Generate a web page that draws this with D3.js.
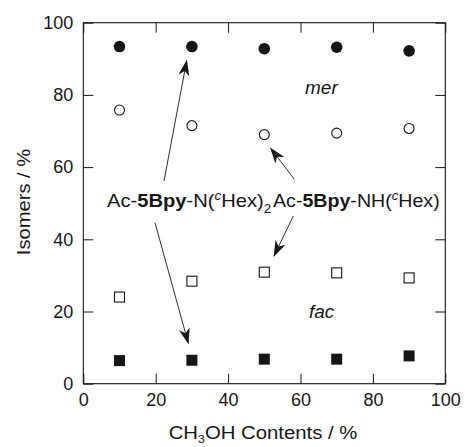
<!DOCTYPE html>
<html>
<head>
<meta charset="utf-8">
<script src="https://cdn.jsdelivr.net/npm/d3@7"></script>
<style>
body { margin:0; background:#fff; }
text { font-family: "Liberation Sans", Arial, sans-serif; fill:#161616; }
</style>
</head>
<body>
<script>
var svgWidth = 465;
var svgHeight = 447;
var margin = {top:22.7, right:19.7, bottom:63.3, left:83.3};
var width = svgWidth - margin.left - margin.right;
var height = svgHeight - margin.top - margin.bottom;

// CH3OH content (%)
var methanol = [10, 30, 50, 70, 90];
// Ac-5Bpy-N(cHex)2 : mer (filled circle), fac (filled square)
var merN2 = [93.4, 93.4, 92.8, 93.2, 92.2];
var facN2 = [6.4, 6.5, 6.8, 6.8, 7.7];
// Ac-5Bpy-NH(cHex) : mer (open circle), fac (open square)
var merNH = [75.8, 71.5, 69.0, 69.4, 70.7];
var facNH = [24.0, 28.4, 30.9, 30.7, 29.3];
var xTicks = [0, 20, 40, 60, 80, 100];
var yTicks = [0, 20, 40, 60, 80, 100];

var svg = d3.select("body").append("svg").attr("width", svgWidth).attr("height", svgHeight);
var chart = svg.append("g").attr("transform", `translate(${margin.left}, ${margin.top})`);

var x = d3.scaleLinear().domain([0, 100]).range([0, width]);
var y = d3.scaleLinear().domain([0, 100]).range([height, 0]);

var ink = "#161616";

function styleAxis(g) {
  g.select(".domain").remove();
  g.selectAll(".tick line").attr("stroke", ink).attr("stroke-width", 1);
  g.selectAll(".tick text").attr("font-size", "18px").attr("fill", ink)
    .attr("font-family", "Liberation Sans, Arial, sans-serif");
}

chart.append("g").attr("transform", `translate(0, ${height})`)
  .call(d3.axisBottom(x).tickValues(xTicks).tickSizeInner(-10).tickSizeOuter(0).tickPadding(10))
  .call(styleAxis);
chart.append("g")
  .call(d3.axisLeft(y).tickValues(yTicks).tickSizeInner(-10).tickSizeOuter(0).tickPadding(10))
  .call(styleAxis);
chart.append("g")
  .call(d3.axisTop(x).tickValues(xTicks).tickSizeInner(-10).tickSizeOuter(0).tickFormat(""))
  .call(styleAxis);
chart.append("g").attr("transform", `translate(${width}, 0)`)
  .call(d3.axisRight(y).tickValues(yTicks).tickSizeInner(-10).tickSizeOuter(0).tickFormat(""))
  .call(styleAxis);

chart.append("rect").attr("width", width).attr("height", height)
  .attr("fill", "none").attr("stroke", ink).attr("stroke-width", 1.1);

// markers
chart.selectAll(".merN2").data(methanol).enter().append("circle")
  .attr("cx", d => x(d)).attr("cy", (d, i) => y(merN2[i])).attr("r", 5.8).attr("fill", ink);
chart.selectAll(".merNH").data(methanol).enter().append("circle")
  .attr("cx", d => x(d)).attr("cy", (d, i) => y(merNH[i])).attr("r", 5)
  .attr("fill", "#fff").attr("stroke", ink).attr("stroke-width", 1.1);
chart.selectAll(".facNH").data(methanol).enter().append("rect")
  .attr("x", d => x(d) - 5).attr("y", (d, i) => y(facNH[i]) - 5).attr("width", 10).attr("height", 10)
  .attr("fill", "#fff").attr("stroke", ink).attr("stroke-width", 1.1);
chart.selectAll(".facN2").data(methanol).enter().append("rect")
  .attr("x", d => x(d) - 5.5).attr("y", (d, i) => y(facN2[i]) - 5.5).attr("width", 11).attr("height", 11)
  .attr("fill", ink);

// arrows
svg.append("defs").append("marker").attr("id", "head")
  .attr("viewBox", "0 0 16 11").attr("refX", 15).attr("refY", 5.5)
  .attr("markerWidth", 16).attr("markerHeight", 11).attr("markerUnits", "userSpaceOnUse")
  .attr("orient", "auto")
  .append("path").attr("d", "M0,0 L16,5.5 L0,11 L4.5,5.5 Z").attr("fill", ink);

var arrows = [
  [164, 181, 186.7, 60.7],
  [155, 222.7, 188.3, 343.3],
  [294.3, 179.3, 270.7, 148.3],
  [293.3, 216, 274, 256]
];
svg.selectAll(".arrow").data(arrows).enter().append("line")
  .attr("x1", d => d[0]).attr("y1", d => d[1]).attr("x2", d => d[2]).attr("y2", d => d[3])
  .attr("stroke", ink).attr("stroke-width", 0.9).attr("marker-end", "url(#head)");

// labels
svg.append("text").attr("x", 305).attr("y", 94).attr("font-size", "19px")
  .attr("font-style", "italic").text("mer");
svg.append("text").attr("x", 309).attr("y", 318).attr("font-size", "19px")
  .attr("font-style", "italic").text("fac");

function compound(xp, yp, sx, tail, sub) {
  var t = svg.append("text").attr("transform", `translate(${xp}, ${yp}) scale(${sx}, 1)`)
    .attr("font-size", "18px");
  t.append("tspan").text("Ac-");
  t.append("tspan").attr("font-weight", "bold").text("5Bpy");
  t.append("tspan").text(tail);
  t.append("tspan").attr("font-size", "12px").attr("font-style", "italic").attr("dy", -7).text("c");
  t.append("tspan").attr("dy", 7).text("Hex)");
  if (sub) t.append("tspan").attr("font-size", "12px").attr("dy", 6).text(sub);
}
compound(107, 207, 1.12, "-N(", "2");
compound(273, 207, 1.09, "-NH(", null);

svg.append("text").attr("transform", "translate(30, 202) rotate(-90) scale(1.12, 1)")
  .attr("text-anchor", "middle").attr("font-size", "18px").text("Isomers / %");

var xt = svg.append("text").attr("transform", "translate(263, 439) scale(1.13, 1)")
  .attr("text-anchor", "middle").attr("font-size", "18px");
xt.append("tspan").text("CH");
xt.append("tspan").attr("font-size", "11px").attr("dy", 4).text("3");
xt.append("tspan").attr("dy", -4).text("OH Contents / %");
</script>
</body>
</html>
